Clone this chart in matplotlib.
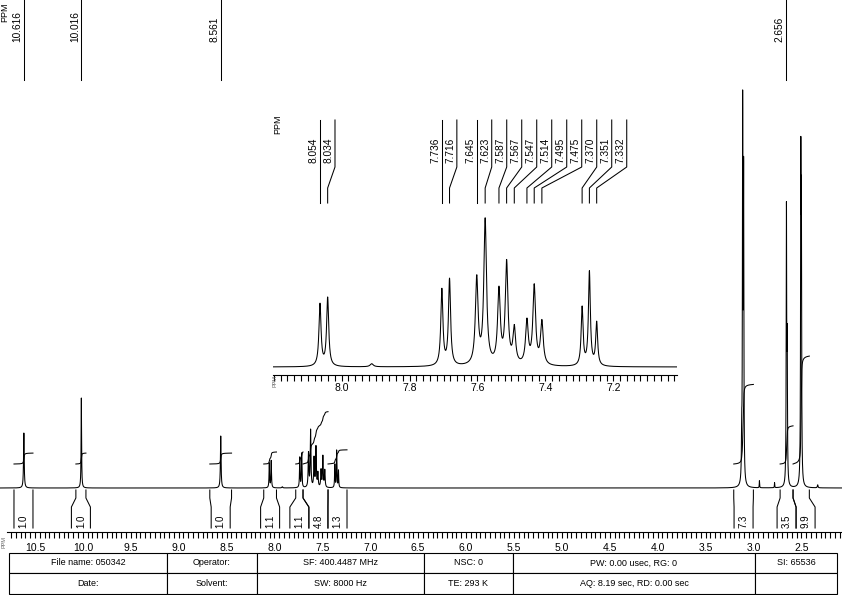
import numpy as np
import matplotlib
matplotlib.use('Agg')
import matplotlib.pyplot as plt
from matplotlib.ticker import FixedLocator, FormatStrFormatter, NullFormatter

plt.rcParams['font.family'] = ['Liberation Sans', 'DejaVu Sans']

# Peak list: position (ppm), height (main plot units), half width (ppm)
peak_ppm = [10.616, 10.016, 8.561, 8.054, 8.034, 7.919, 7.736, 7.716, 7.645, 7.623,
            7.587, 7.567, 7.547, 7.514, 7.495, 7.475, 7.370, 7.351, 7.332,
            3.123, 3.113, 3.103, 2.938, 2.780, 2.656, 2.648, 2.506, 2.500, 2.330]
peak_height = [55, 90, 52, 24.5, 27, 1.2, 30, 34, 34, 57,
               29, 40, 14, 17, 31, 17, 23, 37, 17,
               40, 370, 300, 7, 5, 270, 130, 300, 250, 3]
peak_width = [0.004, 0.003, 0.004, 0.0033, 0.0033, 0.005, 0.0033, 0.0033, 0.0042, 0.0042,
              0.0042, 0.0042, 0.0042, 0.0042, 0.0042, 0.0042, 0.003, 0.003, 0.003,
              0.003, 0.003, 0.003, 0.002, 0.002, 0.003, 0.003, 0.003, 0.003, 0.004]

# Integration regions (ppm, left/right) and values
int_regions = [(10.719, 10.521), (10.073, 9.968), (8.675, 8.448), (8.112, 7.979),
               (7.778, 7.702), (7.702, 7.441), (7.441, 7.243), (3.206, 3.001),
               (2.722, 2.587), (2.587, 2.417)]
int_values = [1.0, 1.0, 1.0, 1.1, 1.1, 4.8, 1.3, 7.3, 3.5, 9.9]

# Labelled peaks
main_labels = [10.616, 10.016, 8.561, 2.656]
inset_labels = [8.054, 8.034, 7.736, 7.716, 7.645, 7.623, 7.587, 7.567, 7.547,
                7.514, 7.495, 7.475, 7.370, 7.351, 7.332]

# Acquisition table
table_row1 = ['File name: 050342', 'Operator:', 'SF: 400.4487 MHz', 'NSC: 0',
              'PW: 0.00 usec, RG: 0', 'SI: 65536']
table_row2 = ['Date:', 'Solvent:', 'SW: 8000 Hz', 'TE: 293 K',
              'AQ: 8.19 sec, RD: 0.00 sec', '']

W, H = 842, 595
MAIN_XLIM = (10.865, 2.076)
SPEC_XLIM = (8.1774, 7.1224)     # inset spectrum
RULER_XLIM = (8.2032, 7.0124)    # inset ruler (as printed)
INSET_GAIN = 2.53
INT_BASE = 24
INT_SCALE = 10.9


def rect(x0, y0, x1, y1):
    return [x0 / W, 1 - y1 / H, (x1 - x0) / W, (y1 - y0) / H]


def spectrum(x):
    y = np.zeros_like(x)
    for p, h, w in zip(peak_ppm, peak_height, peak_width):
        y += h / (1 + ((x - p) / w) ** 2)
    return y


fig = plt.figure(figsize=(W / 100, H / 100), dpi=100)

# ---- main spectrum
ax = fig.add_axes(rect(0, 0, 842, 532))
ax.patch.set_alpha(0)
x = np.linspace(MAIN_XLIM[0], MAIN_XLIM[1], 80000)
y = spectrum(x)
ax.plot(x, y, color='black', lw=0.75)
ax.set_xlim(*MAIN_XLIM)
ax.set_ylim(-44, 488)
for s in ['left', 'right', 'top']:
    ax.spines[s].set_visible(False)
ax.spines['bottom'].set_bounds(10.79, MAIN_XLIM[1])
ax.spines['bottom'].set_linewidth(0.8)
ax.set_yticks([])
ax.xaxis.set_major_locator(FixedLocator(np.arange(2.5, 10.51, 0.5)))
ax.xaxis.set_minor_locator(FixedLocator(np.arange(2.1, 10.76, 0.05)))
ax.xaxis.set_major_formatter(FormatStrFormatter('%.1f'))
ax.xaxis.set_minor_formatter(NullFormatter())
ax.tick_params(axis='x', which='both', direction='out', length=4, width=0.8,
               labelsize=7.5, pad=4)

# integral curves and brackets
px = (MAIN_XLIM[0] - MAIN_XLIM[1]) / W
prev_b, prev_br = None, None
for (a, b), val in zip(int_regions, int_values):
    m = (x <= a) & (x >= b)
    cum = np.cumsum(y[m])
    ax.plot(x[m], INT_BASE + cum / cum[-1] * val * INT_SCALE, color='black', lw=0.75)
    c = (a + b) / 2
    bl = c + 9.5 * px
    if prev_b is not None and abs(prev_b - a) < 1e-6:
        bl = min(bl, prev_br)
    br = bl - 19 * px
    for top, bot in [(a, bl), (b, br)]:
        ax.plot([top, top, bot, bot], [-2, -10, -19, -40], color='black', lw=0.75,
                clip_on=False)
    ax.text((bl + br) / 2, -40, '%.1f' % val, rotation=90, ha='center', va='bottom',
            fontsize=7)
    prev_b, prev_br = b, br

# peak labels on the main plot
for p in main_labels:
    ax.plot([p, p], [488, 408], color='black', lw=0.75, clip_on=False)
    ax.annotate('%.3f' % p, xy=(p, 446), xytext=(-1.5, 0), textcoords='offset pixels',
                rotation=90, ha='right', va='bottom', fontsize=7.3, annotation_clip=False)

fig.text(5 / W, 1 - 22 / H, 'PPM', rotation=90, ha='center', va='bottom', fontsize=6.5)
fig.text(4 / W, 1 - 542 / H, 'PPM', rotation=90, ha='center', va='center', fontsize=4,
         color='0.4')

# ---- inset (expanded aromatic region)
ax_r = fig.add_axes(rect(272.7, 200, 677, 375))
ax_r.patch.set_alpha(0)
ax_r.set_xlim(*RULER_XLIM)
ax_r.set_ylim(0, 1)
for s in ['left', 'right', 'top']:
    ax_r.spines[s].set_visible(False)
ax_r.spines['bottom'].set_linewidth(0.8)
ax_r.set_yticks([])
ax_r.xaxis.set_major_locator(FixedLocator([8.0, 7.8, 7.6, 7.4, 7.2]))
ax_r.xaxis.set_minor_locator(FixedLocator(np.arange(7.02, 8.201, 0.02)))
ax_r.xaxis.set_major_formatter(FormatStrFormatter('%.1f'))
ax_r.xaxis.set_minor_formatter(NullFormatter())
ax_r.tick_params(axis='x', which='both', direction='out', length=4, width=0.8,
                 labelsize=7.5, pad=1.5)
fig.text(275 / W, 1 - 381 / H, 'PPM', rotation=90, ha='center', va='center', fontsize=4,
         color='0.4')

ax_s = fig.add_axes(rect(272.7, 200, 677, 375))
ax_s.axis('off')
xs = np.linspace(SPEC_XLIM[0], SPEC_XLIM[1], 20000)
ax_s.plot(xs, spectrum(xs) * INSET_GAIN, color='black', lw=0.75)
ax_s.set_xlim(*SPEC_XLIM)
ax_s.set_ylim(-8, 167)

# inset peak labels, spread so they do not overlap
spx = (SPEC_XLIM[0] - SPEC_XLIM[1]) / (677 - 272.7)
tops = []
for p in inset_labels:
    t = p if not tops else min(p, tops[-1] - 15 * spx)
    tops.append(t)
for p, t in zip(inset_labels, tops):
    ax_s.plot([t, t, p, p], [247, 200, 179, 164], color='black', lw=0.75, clip_on=False)
    ax_s.annotate('%.3f' % p, xy=(t, 204), xytext=(-1.5, 0), textcoords='offset pixels',
                  rotation=90, ha='right', va='bottom', fontsize=7.3, annotation_clip=False)
fig.text(278 / W, 1 - 134 / H, 'PPM', rotation=90, ha='center', va='bottom', fontsize=6.5)

# ---- acquisition table
ax_t = fig.add_axes(rect(9, 552.5, 837, 594))
ax_t.axis('off')
col_w = np.array([158, 90, 167, 89, 242, 82]) / 828
tbl = ax_t.table(cellText=[table_row1, table_row2], colWidths=list(col_w),
                 cellLoc='center', bbox=[0, 0, 1, 1])
tbl.auto_set_font_size(False)
for cell in tbl.get_celld().values():
    cell.set_linewidth(0.8)
    cell.get_text().set_fontsize(6.5)

fig.savefig('out.png', dpi=100)
